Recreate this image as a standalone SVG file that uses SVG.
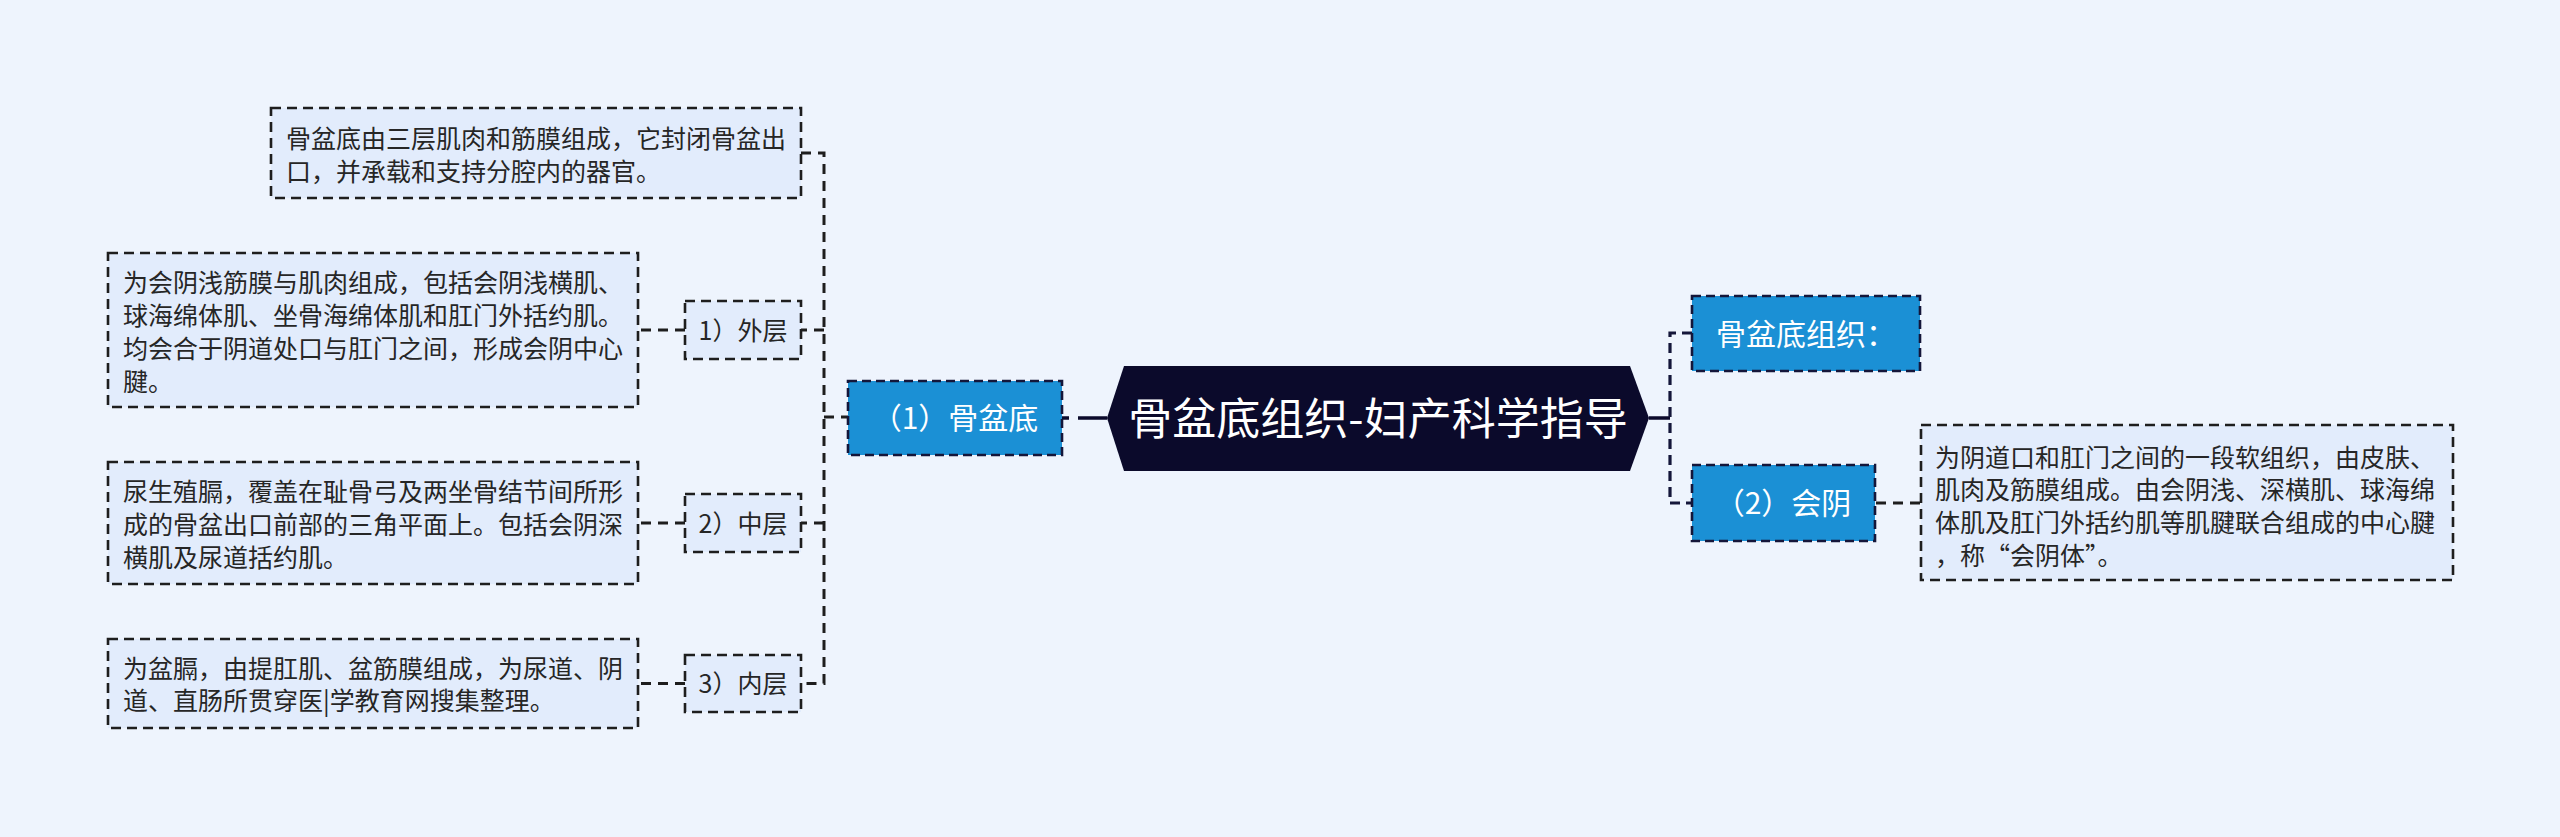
<svg xmlns="http://www.w3.org/2000/svg" width="2560" height="837" viewBox="0 0 2560 837">
<style>
.bg{fill:#eef4fd}
.desc{fill:#e2ecfc;stroke:#1e1e1e;stroke-width:2.6;stroke-dasharray:10 6}
.sub{fill:#e2ecfc;stroke:#1e1e1e;stroke-width:2.6;stroke-dasharray:10 6}
.blue{fill:#1b90d5;stroke:#14163a;stroke-width:2.6;stroke-dasharray:9 5}
.center{fill:#0b0a2b}
.t{font-family:"Noto Sans CJK SC","Noto Sans",sans-serif;fill:#262626;font-size:25px}
.tw{font-family:"Noto Sans CJK SC","Noto Sans",sans-serif;fill:#ffffff;font-size:30px}
.tc{font-family:"Noto Sans CJK SC","Noto Sans",sans-serif;fill:#ffffff;font-size:44px}
.ln{fill:none;stroke:#1e1e1e;stroke-width:3;stroke-dasharray:10 7}
.lr{fill:none;stroke:#14163a;stroke-width:3.2;stroke-dasharray:10 6}
</style>
<rect class="bg" x="0" y="0" width="2560" height="837"/>
<g id="connectors">
<path class="ln" d="M801,153 H824 V683.5 H801"/>
<path class="ln" d="M824,330 H801"/>
<path class="ln" d="M824,523 H801"/>
<path class="ln" d="M824,417 H848"/>
<path class="ln" d="M685,330 H638"/>
<path class="ln" d="M685,523 H638"/>
<path class="ln" d="M685,683.5 H638"/>
<path fill="none" stroke="#0b0a2b" stroke-width="3.5" stroke-dasharray="7 9 40" d="M1062,418 H1107"/>
<path fill="none" stroke="#0b0a2b" stroke-width="3.5" d="M1649,418 H1670"/>
<path class="lr" d="M1692,333 H1670 V503 H1692"/>
<path class="ln" d="M1876,503 H1921"/>
</g>
<g id="center">
<polygon class="center" points="1107,418 1124,366 1630,366 1649,418 1630,471 1124,471"/>
<text class="tc" x="1378" y="434.5" text-anchor="middle">骨盆底组织-妇产科学指导</text>
</g>
<g id="n-gupendi">
<rect class="blue" x="848" y="381" width="214" height="74"/>
<text class="tw" x="955" y="429" text-anchor="middle">（1）骨盆底</text>
</g>
<g id="n-top">
<rect class="desc" x="271" y="108" width="530" height="90"/>
<text class="t"><tspan x="286" y="147.5">骨盆底由三层肌肉和筋膜组成，它封闭骨盆出</tspan><tspan x="286" y="181">口，并承载和支持分腔内的器官。</tspan></text>
</g>
<g id="n-waiceng">
<rect class="sub" x="685" y="301" width="116" height="58"/>
<text class="t" x="743" y="339.5" text-anchor="middle">1）外层</text>
</g>
<g id="n-waiceng-desc">
<rect class="desc" x="108" y="253" width="530" height="154"/>
<text class="t"><tspan x="123" y="292">为会阴浅筋膜与肌肉组成，包括会阴浅横肌、</tspan><tspan x="123" y="325">球海绵体肌、坐骨海绵体肌和肛门外括约肌。</tspan><tspan x="123" y="358">均会合于阴道处口与肛门之间，形成会阴中心</tspan><tspan x="123" y="391">腱。</tspan></text>
</g>
<g id="n-zhongceng">
<rect class="sub" x="685" y="494" width="116" height="58"/>
<text class="t" x="743" y="532.5" text-anchor="middle">2）中层</text>
</g>
<g id="n-zhongceng-desc">
<rect class="desc" x="108" y="462" width="530" height="122"/>
<text class="t"><tspan x="123" y="500.5">尿生殖膈，覆盖在耻骨弓及两坐骨结节间所形</tspan><tspan x="123" y="533.5">成的骨盆出口前部的三角平面上。包括会阴深</tspan><tspan x="123" y="566.5">横肌及尿道括约肌。</tspan></text>
</g>
<g id="n-neiceng">
<rect class="sub" x="685" y="655" width="116" height="57"/>
<text class="t" x="743" y="693" text-anchor="middle">3）内层</text>
</g>
<g id="n-neiceng-desc">
<rect class="desc" x="108" y="639" width="530" height="89"/>
<text class="t"><tspan x="123" y="677.5">为盆膈，由提肛肌、盆筋膜组成，为尿道、阴</tspan><tspan x="123" y="710">道、直肠所贯穿医|学教育网搜集整理。</tspan></text>
</g>
<g id="n-zuzhi">
<rect class="blue" x="1692" y="296" width="228" height="75"/>
<text class="tw" x="1806" y="345" text-anchor="middle">骨盆底组织：</text>
</g>
<g id="n-huiyin">
<rect class="blue" x="1692" y="465" width="183" height="76"/>
<text class="tw" x="1783" y="514" text-anchor="middle">（2）会阴</text>
</g>
<g id="n-huiyin-desc">
<rect class="desc" x="1921" y="425" width="532" height="155"/>
<text class="t"><tspan x="1935" y="466.5">为阴道口和肛门之间的一段软组织，由皮肤、</tspan><tspan x="1935" y="498.5">肌肉及筋膜组成。由会阴浅、深横肌、球海绵</tspan><tspan x="1935" y="531.5">体肌及肛门外括约肌等肌腱联合组成的中心腱</tspan><tspan x="1935" y="564.5">，称“会阴体”。</tspan></text>
</g>
</svg>
